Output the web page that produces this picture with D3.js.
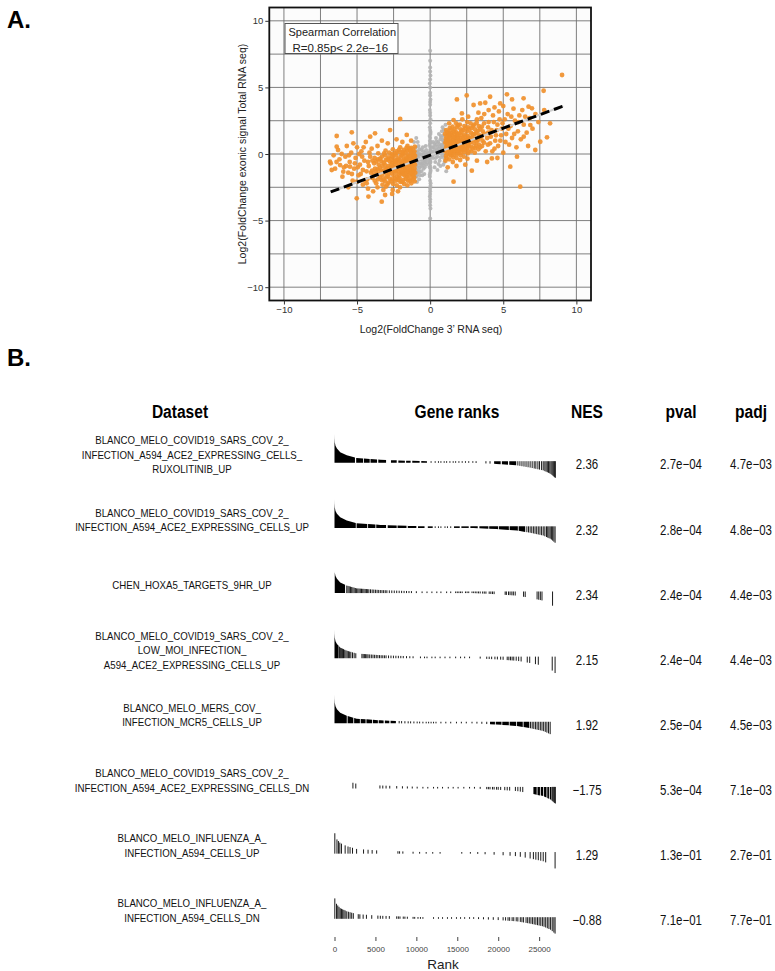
<!DOCTYPE html>
<html>
<head>
<meta charset="utf-8">
<title>Fold change scatter + GSEA table</title>
<script src="https://cdnjs.cloudflare.com/ajax/libs/d3/7.8.5/d3.min.js"></script>
<style>
  body { margin: 0; background: #fff; }
  svg text { font-family: "Liberation Sans", Arial, sans-serif; }
</style>
</head>
<body>
<svg id="fig" width="775" height="971"></svg>
<script>
// ---------- panel A data ----------
var gridVals = [-10, -7.5, -5, -2.5, 0, 2.5, 5, 7.5, 10];
var tickVals = [-10, -5, 0, 5, 10];
var fitX = [-6.8, 9.1];
var fitY = [-2.85, 3.6];

var grayPts = [
  [0,7.75],[0,6.2],[0.02,5.9],[-0.02,5.3],[0,4.6],[0.02,4.1],[0,3.7],[-0.02,3.3],[0,2.9],[0.02,2.6],
  [0,2.3],[-0.02,2.0],[0,1.8],[0.02,1.5],[0,1.2],[-0.02,1.0],[0,0.8],[0.02,0.5],[0,0.3],[-0.02,0.1],
  [0,-0.1],[0.02,-0.3],[0,-0.5],[-0.02,-0.7],[0,-0.9],[0.02,-1.1],[0,-1.4],[-0.02,-1.7],[0,-2.0],
  [0.02,-2.4],[0,-2.8],[-0.02,-3.2],[0,-3.6],[0.02,-4.1],[0,-4.85],
  [0.03,1.65],[-0.03,1.35],[0.03,0.9],[-0.03,0.65],[0.03,0.2],[-0.03,-0.2],[0.03,-0.6],[-0.03,-1.0],
  [0.03,-1.25],[-0.03,-1.55],[0.03,-2.2],[0,3.1],[0,3.9],[0,4.4],[0,5.0],[0,5.6],[0,6.5],[0,7.0],
  [0,-2.6],[0,-3.0],[0,-3.4],[0,-3.85],
  [-0.95,-0.9],[-0.9,-0.4],[-0.9,0.2],[-0.85,-1.4],[-0.8,-0.7],[-0.75,-0.1],[-0.7,-1.0],[-0.65,-0.4],
  [-0.6,0.3],[-0.55,-0.7],[-0.5,-0.2],[-0.45,-1.1],[-0.4,-0.5],[-0.35,0.1],[-0.3,-0.3],[-0.25,-0.8],
  [-0.2,0.0],[-0.15,-0.4],[-0.9,-2.1],[-0.95,1.2],[-0.8,0.6],[-0.7,-1.6],[-0.6,-1.3],[-1.0,-0.2],
  [-0.85,0.9],[-0.5,0.5],[-0.4,-1.5],[-0.3,0.6],[-0.95,-1.2],[-0.75,-1.9],[-0.88,-0.15],[-0.78,-1.2],
  [-0.68,-0.7],[-0.58,-0.05],[-0.48,-0.85],[-0.38,-0.2],[-0.92,-1.6],[-0.82,-0.45],[-0.72,0.35],
  [-0.98,-0.55],[-0.97,0.5],[-0.93,-1.7],[-0.87,-0.95],[-0.83,0.15],[-0.77,-0.35],[-0.73,-1.35],[-0.67,0.0],
  [-0.63,-0.9],[-0.57,-0.45],[-0.53,-1.6],[-0.47,0.2],[-0.43,-0.7],[-0.37,-1.0],[-0.33,-0.55],[-0.27,0.3],
  [-0.23,-0.25],[-0.17,-0.65],[-0.12,0.1],[-0.08,-0.2],[-1.05,-1.5],[-1.1,0.9],
  [0.15,0.2],[0.2,-0.3],[0.25,0.5],[0.3,0.0],[0.35,-0.6],[0.4,0.7],[0.45,0.3],[0.5,-0.2],[0.55,0.9],
  [0.6,0.4],[0.65,-0.5],[0.7,1.1],[0.75,0.2],[0.8,0.7],[0.85,-0.1],[0.9,1.4],[0.95,0.5],[0.9,-0.8],
  [0.6,1.5],[0.8,1.7],[0.95,1.0],[0.4,1.2],[0.3,-1.0],[0.7,-0.9],[0.85,2.0],[0.5,-1.2],[0.95,-0.3],
  [0.2,0.9],[0.88,0.25],[0.78,1.25],[0.68,0.6],[0.58,0.1],[0.92,0.85],[0.82,0.45],[0.72,-0.25],
  [0.08,0.15],[0.12,-0.15],[0.18,0.5],[0.23,0.05],[0.28,0.75],[0.33,0.3],[0.38,-0.3],[0.43,0.95],
  [0.48,0.55],[0.53,0.15],[0.57,-0.75],[0.62,0.75],[0.67,0.25],[0.73,1.35],[0.77,0.45],[0.83,1.05],
  [0.87,0.6],[0.93,1.8],[0.97,0.2],[0.98,-0.6],[1.05,2.2],[1.1,-1.3]
];

var orangePts = [
  // left cluster, dense part
  [-1.05,0.55],[-1.08,0.2],[-1.03,-0.15],[-1.1,-0.45],[-1.04,-0.8],[-1.07,-1.1],[-1.02,-1.4],[-1.09,-1.75],[-1.06,-2.05],
  [-1.3,0.45],[-1.33,0.1],[-1.27,-0.25],[-1.35,-0.55],[-1.28,-0.9],[-1.32,-1.2],[-1.26,-1.55],[-1.34,-1.85],[-1.29,-2.2],
  [-1.55,0.6],[-1.58,0.25],[-1.52,-0.1],[-1.6,-0.4],[-1.54,-0.75],[-1.57,-1.05],[-1.51,-1.35],[-1.59,-1.7],[-1.53,-2.0],[-1.56,-2.35],
  [-1.8,0.3],[-1.83,0.0],[-1.77,-0.35],[-1.85,-0.65],[-1.79,-1.0],[-1.82,-1.3],[-1.76,-1.6],[-1.84,-1.95],[-1.78,-2.25],
  [-2.05,0.5],[-2.08,0.15],[-2.02,-0.2],[-2.1,-0.5],[-2.04,-0.85],[-2.07,-1.15],[-2.01,-1.45],[-2.09,-1.8],[-2.03,-2.1],[-2.06,-2.5],
  [-2.3,0.2],[-2.33,-0.1],[-2.27,-0.45],[-2.35,-0.75],[-2.29,-1.05],[-2.32,-1.4],[-2.26,-1.7],[-2.34,-2.0],[-2.28,-2.35],
  [-2.55,0.35],[-2.58,0.0],[-2.52,-0.3],[-2.6,-0.65],[-2.54,-0.95],[-2.57,-1.25],[-2.51,-1.6],[-2.59,-1.9],[-2.53,-2.25],[-2.56,-2.7],
  [-2.8,0.1],[-2.83,-0.25],[-2.77,-0.55],[-2.85,-0.9],[-2.79,-1.2],[-2.82,-1.5],[-2.76,-1.85],[-2.84,-2.15],
  [-3.05,0.25],[-3.08,-0.1],[-3.02,-0.45],[-3.1,-0.8],[-3.04,-1.1],[-3.07,-1.4],[-3.01,-1.75],[-3.09,-2.05],[-3.03,-2.45],
  [-3.3,-0.2],[-3.33,-0.55],[-3.27,-0.9],[-3.35,-1.25],[-3.29,-1.6],[-3.32,-1.95],[-3.26,-2.3],
  [-3.55,0.05],[-3.58,-0.4],[-3.52,-0.8],[-3.6,-1.15],[-3.54,-1.5],[-3.57,-1.9],
  [-3.8,-0.3],[-3.83,-0.7],[-3.77,-1.1],[-3.85,-1.55],[-3.79,-2.0],
  [-1.18,0.35],[-1.2,-0.05],[-1.16,-0.6],[-1.22,-0.95],[-1.19,-1.3],[-1.17,-1.6],[-1.43,0.4],[-1.45,-0.2],
  [-1.41,-0.6],[-1.44,-0.95],[-1.4,-1.25],[-1.46,-1.6],[-1.68,0.1],[-1.7,-0.5],[-1.66,-0.85],[-1.71,-1.2],
  [-1.69,-1.5],[-1.93,-0.1],[-1.95,-0.7],[-1.91,-1.0],[-1.94,-1.35],[-2.18,-0.35],[-2.2,-0.95],[-2.17,-1.3],
  [-2.43,-0.55],[-2.45,-1.15],[-2.68,-0.4],[-2.7,-1.05],
  [-1.12,0.05],[-1.14,-0.3],[-1.11,-0.7],[-1.13,-1.25],[-1.15,-1.9],[-1.38,0.25],[-1.37,-0.4],[-1.39,-0.75],
  [-1.36,-1.45],[-1.38,-2.0],[-1.62,0.45],[-1.64,-0.25],[-1.63,-0.6],[-1.61,-1.3],[-1.65,-1.85],[-1.88,0.15],
  [-1.87,-0.5],[-1.89,-0.85],[-1.86,-1.5],[-1.9,-2.1],[-2.13,0.3],[-2.14,-0.65],[-2.12,-1.6],[-2.15,-1.95],
  [-2.38,0.05],[-2.4,-0.6],[-2.39,-1.25],[-2.41,-1.85],[-2.63,-0.15],[-2.65,-0.8],[-2.64,-1.4],[-2.66,-2.05],
  [-2.9,-0.4],[-2.92,-1.05],[-2.91,-1.65],[-2.93,-2.3],[-3.15,0.05],[-3.17,-0.65],[-3.16,-1.25],[-3.18,-1.9],
  [-3.42,-0.35],[-3.44,-1.05],[-3.43,-1.7],[-3.68,-0.55],[-3.7,-1.3],[-3.69,-2.2],[-3.95,-0.5],[-3.97,-1.25],
  [-3.96,-1.8],
  // left cluster, spread
  [-4.0,0.4],[-4.1,-0.2],[-4.2,-0.9],[-4.05,-1.4],[-4.3,-1.9],[-4.4,0.9],[-4.5,-0.5],[-4.6,-1.2],[-4.7,0.2],
  [-4.8,-0.8],[-4.9,-1.6],[-5.0,0.5],[-5.1,-0.3],[-5.2,-1.1],[-5.3,-2.0],[-5.4,0.1],[-5.5,-0.6],[-5.6,-1.4],
  [-5.7,0.6],[-5.8,-0.2],[-5.9,-1.0],[-6.0,-1.7],[-6.2,-0.4],[-6.3,0.3],[-6.5,-1.1],[-6.6,-0.1],[-6.8,-0.7],
  [-4.25,-2.6],[-3.9,-2.8],[-3.6,-2.5],[-4.6,-2.3],[-5.6,-2.5],[-3.2,-2.7],[-2.6,-3.0],[-2.2,-2.8],
  [-4.15,0.1],[-4.25,-0.6],[-4.35,-1.3],[-4.45,-2.0],[-4.55,0.5],[-4.65,-0.2],[-4.75,-1.5],[-4.85,0.0],
  [-4.95,-1.0],[-5.15,-0.7],[-5.35,-1.5],[-5.55,-0.1],[-5.75,-0.9],[-6.05,0.0],[-6.4,-0.6],
  [-6.39,1.35],[-6.39,0.55],[-5.36,1.63],[-5.25,0.8],[-4.1,1.3],[-3.77,1.55],[-2.74,1.8],[-2.05,2.63],
  [-1.6,1.43],[-6.85,-0.58],[-6.73,-1.2],[-6.16,-0.83],[-5.94,-1.33],[-5.48,-0.95],[-5.02,-3.33],[-4.22,-3.2],
  [-3.31,-3.58],[-3.08,-3.08],[-4.34,-2.2],[-5.02,-2.08],[-3.3,1.0],[-2.3,1.1],[-1.3,1.0],[-1.9,0.9],
  [-2.9,0.8],[-3.6,0.6],
  // right cluster, dense part
  [1.05,-0.5],[1.08,-0.15],[1.03,0.2],[1.1,0.5],[1.04,0.85],[1.07,1.15],[1.02,1.5],[1.09,1.8],
  [1.3,-0.4],[1.33,-0.05],[1.27,0.3],[1.35,0.65],[1.29,0.95],[1.32,1.3],[1.26,1.6],[1.34,1.95],
  [1.55,-0.6],[1.58,-0.25],[1.52,0.1],[1.6,0.4],[1.54,0.75],[1.57,1.05],[1.51,1.4],[1.59,1.7],[1.53,2.05],
  [1.8,-0.3],[1.83,0.0],[1.77,0.35],[1.85,0.7],[1.79,1.0],[1.82,1.35],[1.76,1.65],[1.84,2.0],[1.78,2.3],
  [2.05,-0.45],[2.08,-0.1],[2.02,0.25],[2.1,0.55],[2.04,0.9],[2.07,1.2],[2.01,1.55],[2.09,1.85],[2.03,2.2],
  [2.3,-0.2],[2.33,0.15],[2.27,0.5],[2.35,0.8],[2.29,1.15],[2.32,1.45],[2.26,1.8],[2.34,2.1],
  [2.55,-0.35],[2.58,0.05],[2.52,0.4],[2.6,0.7],[2.54,1.05],[2.57,1.35],[2.51,1.7],[2.59,2.0],[2.53,2.4],
  [2.8,0.2],[2.83,0.55],[2.77,0.9],[2.85,1.25],[2.79,1.6],[2.82,1.95],[2.76,2.3],
  [3.05,0.1],[3.08,0.45],[3.02,0.8],[3.1,1.15],[3.04,1.5],[3.07,1.85],[3.01,2.2],
  [3.3,0.35],[3.33,0.7],[3.27,1.05],[3.35,1.4],[3.29,1.75],[3.32,2.1],
  [3.55,0.6],[3.58,1.0],[3.52,1.35],[3.6,1.7],[3.54,2.05],
  [1.18,0.05],[1.2,0.45],[1.16,0.8],[1.22,1.1],[1.19,1.45],[1.43,-0.1],[1.45,0.25],[1.41,0.6],[1.44,0.9],
  [1.4,1.2],[1.46,1.55],[1.68,0.2],[1.7,0.55],[1.66,0.85],[1.71,1.2],[1.69,1.5],[1.93,0.1],[1.95,0.4],
  [1.91,0.75],[1.94,1.05],[2.18,0.35],[2.2,0.7],[2.17,1.0],[2.43,0.6],[2.45,0.95],[2.68,0.85],[2.7,1.15],
  [1.12,0.3],[1.14,0.65],[1.11,1.0],[1.13,1.3],[1.15,1.65],[1.12,-0.3],[1.38,0.1],[1.37,0.45],[1.39,0.8],
  [1.36,1.45],[1.38,1.8],[1.62,-0.05],[1.64,0.3],[1.63,0.9],[1.61,1.25],[1.65,1.85],[1.88,0.25],[1.87,0.55],
  [1.89,1.2],[1.86,1.5],[1.9,2.15],[2.13,0.1],[2.14,0.45],[2.12,1.4],[2.15,1.7],[2.38,0.3],[2.4,1.0],
  [2.39,1.3],[2.41,1.95],[2.63,0.2],[2.65,0.55],[2.64,1.2],[2.66,1.85],[2.9,0.4],[2.92,1.05],[2.91,1.45],
  [2.93,2.1],[3.15,0.6],[3.17,0.95],[3.16,1.6],[3.18,2.35],[3.42,0.5],[3.44,1.25],[3.43,1.9],[3.68,0.85],
  [3.7,1.5],[3.69,2.3],[3.95,0.7],[3.97,1.6],[3.96,2.0],
  // right cluster, spread
  [3.8,0.2],[3.9,1.2],[4.0,2.4],[4.1,0.8],[4.2,1.8],[4.3,2.9],[4.4,0.4],[4.5,1.4],[4.6,2.2],[4.7,3.2],
  [4.8,1.0],[4.9,1.9],[5.0,0.1],[5.1,2.6],[5.2,1.5],[5.3,3.0],[5.4,0.7],[5.5,2.1],[5.6,1.2],[5.7,3.4],
  [5.8,2.5],[5.9,0.5],[6.0,1.7],[6.1,2.9],[6.2,1.1],[6.3,3.3],[6.4,2.2],[6.6,1.6],[6.7,0.6],[6.8,2.7],
  [7.0,1.9],[7.2,3.0],[7.4,2.4],[3.7,3.0],[3.5,2.7],[3.2,2.6],[2.6,2.8],[2.2,2.6],[1.3,2.3],[4.4,3.5],
  [3.9,-0.6],[3.2,-0.5],[2.4,-0.8],[1.8,-0.9],[1.2,-1.0],[4.6,-0.3],
  [4.15,1.3],[4.25,0.2],[4.35,2.4],[4.45,1.0],[4.55,1.8],[4.65,0.6],[4.75,2.6],[4.85,1.4],[4.95,2.3],
  [5.15,0.9],[5.35,1.9],[5.55,2.8],[5.75,1.5],[6.05,2.4],[6.4,1.3],[4.0,3.3],[5.0,3.6],[3.3,3.1],[6.5,2.8],
  [9.02,5.93],[7.76,4.75],[1.83,4.1],[3.42,3.8],[3.77,3.85],[5.25,4.48],[4.79,3.8],[6.39,4.18],[6.73,3.55],
  [6.96,3.43],[2.97,3.68],[1.6,2.55],[2.17,3.05],[7.99,1.25],[7.19,0.3],[6.16,-2.45],[1.6,-2.08],[2.85,-1.25],
  [4.22,-0.33],[5.48,-0.95],[5.94,-0.2],[7.53,0.92],[6.85,2.17],[8.2,2.3],[7.8,3.3],[5.6,4.1],[4.1,4.3],[2.5,4.4]
];

// ---------- panel B data ----------
var datasets = [
  ["BLANCO_MELO_COVID19_SARS_COV_2_", "INFECTION_A594_ACE2_EXPRESSING_CELLS_", "RUXOLITINIB_UP"],
  ["BLANCO_MELO_COVID19_SARS_COV_2_", "INFECTION_A594_ACE2_EXPRESSING_CELLS_UP"],
  ["CHEN_HOXA5_TARGETS_9HR_UP"],
  ["BLANCO_MELO_COVID19_SARS_COV_2_", "LOW_MOI_INFECTION_", "A594_ACE2_EXPRESSING_CELLS_UP"],
  ["BLANCO_MELO_MERS_COV_", "INFECTION_MCR5_CELLS_UP"],
  ["BLANCO_MELO_COVID19_SARS_COV_2_", "INFECTION_A594_ACE2_EXPRESSING_CELLS_DN"],
  ["BLANCO_MELO_INFLUENZA_A_", "INFECTION_A594_CELLS_UP"],
  ["BLANCO_MELO_INFLUENZA_A_", "INFECTION_A594_CELLS_DN"]
];
var nes  = [2.36, 2.32, 2.34, 2.15, 1.92, -1.75, 1.29, -0.88];
var pval = [2.7e-4, 2.8e-4, 2.4e-4, 2.4e-4, 2.5e-4, 5.3e-4, 1.3e-1, 7.1e-1];
var padj = [4.7e-3, 4.8e-3, 4.4e-3, 4.4e-3, 4.5e-3, 7.1e-3, 2.7e-1, 7.7e-1];
var rankTicks = [0, 5000, 10000, 15000, 20000, 25000];

// ranked statistic (scaled to max |stat| = 1)
var rankKnots = [0, 10, 40, 120, 300, 700, 1500, 2700, 5600, 9000, 12000, 14500, 17000, 19800, 22300, 23900, 25500, 26400, 27000];
var statKnots = [1.0, 0.85, 0.7, 0.58, 0.48, 0.35, 0.24, 0.14, 0.08, 0.045, 0.02, 0.0, -0.03, -0.07, -0.12, -0.2, -0.3, -0.42, -0.57];

// pathway genes: runs of consecutive hits and single hits (rank positions)
var runs1 = [[0,2500],[2650,3500],[3600,4300],[4400,5200],[5350,6300],[6900,7600],[7800,8600],[8750,9300],[9500,10400],[10600,11300],[19500,20300],[20450,21200],[21350,22200]];
var hits1 = [11800,12300,12700,13000,13400,13700,14100,14500,14800,15200,15600,16000,16400,16900,17300,18500,19000,22400,22650,22900,23150,23400,23650,23900,24150,24400,24600,24850,25050,25300,25500,25700,25850,26000,26150,26300,26450,26580,26700,26800,26900,26980];
var runs2 = [[0,2600],[2700,4000],[4100,5000],[5100,6300],[6500,7600],[7700,8800],[8950,10000],[10200,11000],[11400,12000],[14600,15300],[15500,16400],[16600,17500],[17700,18800],[18900,20000],[20100,21300],[21400,22400],[22500,23300]];
var hits2 = [12300,12700,13000,13500,13800,14200,23500,23700,23900,24100,24300,24500,24700,24900,25100,25300,25500,25700,25900,26050,26200,26350,26500,26650,26800,26950];
var runs3 = [[30,1290]];
var hits3 = [1500,1650,1800,1950,2100,2250,2400,2550,2700,2850,3000,3150,3300,3450,3600,3750,3900,4050,4200,4400,4600,4800,5000,5200,5400,5600,5800,6000,6200,6400,6700,7000,7300,7600,7900,8200,8500,8800,9100,9400,10000,10700,11300,11900,12500,13000,13700,14200,14800,15000,15200,15400,15600,16000,16200,16400,16800,17000,17200,17400,17600,17800,18100,18300,18500,18900,19100,19300,19500,20850,21000,21260,21450,21670,21850,22080,23100,23300,24750,24950,25150,25350,26640];
var runs4 = [[0,500]];
var hits4 = [600,700,800,900,1000,1100,1250,1400,1550,1700,1850,2000,2200,2400,2600,3350,3500,3650,3800,3950,4100,4300,4500,4700,4900,5100,5300,5500,5700,5900,6100,6300,6600,6900,7200,7500,7800,8100,8400,8800,9200,9600,10500,11000,11300,11900,12300,12900,13500,14100,14800,15400,15900,16500,17800,18600,18900,19200,19600,19900,20300,20600,21100,21300,21500,21700,21900,22200,22500,22800,23550,23850,24550,24900,26600,26950];
var runs5 = [[0,1500],[1600,2300],[2400,3100],[3200,3800],[3900,4600],[4700,5300],[5400,6000],[6150,6700],[6850,7500],[19000,19600],[19700,20400],[20500,21300],[21400,22200],[22300,23000],[23100,23800]];
var hits5 = [7900,8200,8600,9000,9300,9700,10100,10400,10800,11200,11500,11800,12100,12400,13000,13600,14200,14900,15500,16100,16800,17400,18000,18600,23950,24150,24350,24550,24750,24950,25150,25350,25550,25750,25950,26150,26350];
var runs6 = [[24300,24700],[24800,25100],[25200,25500],[25600,25900],[26000,26200],[26300,26500]];
var hits6 = [2250,2600,5550,5900,6300,6750,7600,8300,8900,9500,10100,10800,11400,12100,12600,13200,13900,14500,15100,15800,16500,17100,17800,18600,18800,19000,19300,19500,19800,20000,20300,20800,21100,21400,22100,22400,22700,23000,26600,26700,26800,26900,26980];
var runs7 = [];
var hits7 = [40,300,480,650,850,1300,1650,1900,2200,2700,3550,4100,4600,5150,7750,7950,8350,9600,10400,11200,12000,12900,15550,16600,17500,18400,19500,20600,21450,22100,22700,23300,23900,24300,24600,24900,25200,25500,25800,26950];
var runs8 = [];
var hits8 = [40,250,400,550,700,850,1000,1150,1300,1500,1700,1900,2100,2300,2900,3100,3500,3900,4550,5300,5600,5900,6300,6700,7600,7800,8000,8400,8600,8900,9600,9800,10200,10500,10800,12100,12700,13200,13800,14300,14900,15400,15900,16500,17000,17600,18200,18800,19400,20000,20600,20900,21200,21400,21700,21900,22200,22400,22700,22900,23100,23400,23600,23800,24000,24200,24400,24600,24800,25000,25200,25400,25600,25800,26000,26200,26400,26600,26800,26950];

var allRuns = [runs1, runs2, runs3, runs4, runs5, runs6, runs7, runs8];
var allHits = [hits1, hits2, hits3, hits4, hits5, hits6, hits7, hits8];

// ---------- drawing ----------
var svg = d3.select("#fig");
svg.append("rect").attr("width", 775).attr("height", 971).attr("fill", "#fff");

// panel labels
svg.append("text").attr("x", 7).attr("y", 28).attr("font-size", 24).attr("font-weight", "bold").text("A.");
svg.append("text").attr("x", 7).attr("y", 366).attr("font-size", 24).attr("font-weight", "bold").text("B.");

// ---- panel A: scatter ----
var x = d3.scaleLinear().domain([-11, 11]).range([269.3, 591]);
var y = d3.scaleLinear().domain([-11, 11]).range([300.5, 7.5]);

svg.append("rect")
    .attr("x", x(-11)).attr("y", y(11))
    .attr("width", x(11) - x(-11)).attr("height", y(-11) - y(11))
    .attr("fill", "#fcfcfc");

svg.append("g").selectAll("line.gx").data(gridVals).enter().append("line")
    .attr("x1", function(d) { return x(d); }).attr("x2", function(d) { return x(d); })
    .attr("y1", y(11)).attr("y2", y(-11))
    .attr("stroke", "#707070").attr("stroke-width", 0.9);
svg.append("g").selectAll("line.gy").data(gridVals).enter().append("line")
    .attr("y1", function(d) { return y(d); }).attr("y2", function(d) { return y(d); })
    .attr("x1", x(-11)).attr("x2", x(11))
    .attr("stroke", "#707070").attr("stroke-width", 0.9);

svg.append("g").selectAll("circle").data(grayPts).enter().append("circle")
    .attr("cx", function(d) { return x(d[0]); })
    .attr("cy", function(d) { return y(d[1]); })
    .attr("r", 2).attr("fill", "#b3b3b3").attr("opacity", 0.9);

svg.append("g").selectAll("circle").data(orangePts).enter().append("circle")
    .attr("cx", function(d) { return x(d[0]); })
    .attr("cy", function(d) { return y(d[1]); })
    .attr("r", 2.4).attr("fill", "#f0902c").attr("opacity", 0.92);

var fitLine = d3.line().x(function(d) { return x(d[0]); }).y(function(d) { return y(d[1]); });
var fitPts = d3.zip(fitX, fitY);
svg.append("path").attr("d", fitLine(fitPts)).attr("fill", "none")
    .attr("stroke", "#cfcfcf").attr("stroke-width", 2);
svg.append("path").attr("d", fitLine(fitPts)).attr("fill", "none")
    .attr("stroke", "#000").attr("stroke-width", 3).attr("stroke-dasharray", "9,5");

svg.append("rect")
    .attr("x", x(-11)).attr("y", y(11))
    .attr("width", x(11) - x(-11)).attr("height", y(-11) - y(11))
    .attr("fill", "none").attr("stroke", "#111").attr("stroke-width", 1.8);

// correlation box
svg.append("rect").attr("x", 285).attr("y", 23.5).attr("width", 113).attr("height", 30)
    .attr("fill", "#fff").attr("stroke", "#555").attr("stroke-width", 1);
svg.append("text").attr("x", 288.5).attr("y", 36).attr("font-size", 11).attr("fill", "#222")
    .text("Spearman Correlation");
svg.append("text").attr("x", 292.5).attr("y", 51.5).attr("font-size", 11.5).attr("fill", "#222")
    .text("R=0.85p< 2.2e\u221216");

var yAxis = svg.append("g").attr("transform", "translate(" + x(-11) + ",0)")
    .call(d3.axisLeft(y).tickValues(tickVals).tickSize(4).tickPadding(2));
var xAxis = svg.append("g").attr("transform", "translate(0," + y(-11) + ")")
    .call(d3.axisBottom(x).tickValues(tickVals).tickSize(4).tickPadding(2));
[yAxis, xAxis].forEach(function(a) {
  a.select(".domain").remove();
  a.selectAll("line").attr("stroke", "#333");
  a.selectAll("text").attr("font-size", 9.5).attr("fill", "#333")
    .attr("font-family", "Liberation Sans, Arial, sans-serif");
});

svg.append("text").attr("x", 431).attr("y", 333).attr("text-anchor", "middle")
    .attr("font-size", 10.5).attr("fill", "#222").text("Log2(FoldChange 3\u2019 RNA seq)");
svg.append("text").attr("transform", "translate(246,154) rotate(-90)")
    .attr("text-anchor", "middle").attr("font-size", 10.5).attr("fill", "#222")
    .text("Log2(FoldChange exonic signal Total RNA seq)");

// ---- panel B: GSEA table ----
// the table text is condensed horizontally, like Arial Narrow
var squeeze = 0.82;
function narrowText(sel, cx, cy) {
  return sel.append("text")
    .attr("transform", "translate(" + cx + "," + cy + ") scale(" + squeeze + ",1)")
    .attr("text-anchor", "middle");
}

var colDataset = 192, colNES = 587, colPval = 681, colPadj = 751;
var headerY = 418;
var headers = [["Dataset", 180], ["Gene ranks", 457], ["NES", colNES], ["pval", colPval], ["padj", colPadj]];
headers.forEach(function(h) {
  narrowText(svg, h[1], headerY).attr("font-size", 19).attr("font-weight", "bold").text(h[0]);
});

var xr = d3.scaleLinear().domain([0, 27000]).range([334.5, 555.5]);
var statAt = d3.scaleLinear().domain(rankKnots).range(statKnots).clamp(true);
var hPx = d3.scaleLinear().domain([0, 1]).range([0, 28]);
var rowY = d3.scalePoint().domain(d3.range(datasets.length)).range([462, 918]);

function span(r, base) {
  var h = hPx(statAt(r));
  var top = Math.min(base - h, base), bot = Math.max(base - h, base);
  return [Math.min(top, base - 0.8), Math.max(bot, base + 0.8)];
}

function fmtSci(v) {
  var parts = v.toExponential(1).split("e");
  var e = parseInt(parts[1], 10);
  var s = (e < 0 ? "\u2212" : "+") + (Math.abs(e) < 10 ? "0" : "") + Math.abs(e);
  return parts[0] + "e" + s;
}
var fmtNes = d3.format(".2f");

datasets.forEach(function(lines, i) {
  var base = rowY(i);
  var g = svg.append("g");

  // dataset name
  var lh = 14.5;
  var c = base - 7.5;
  lines.forEach(function(t, j) {
    narrowText(g, colDataset, c + (j - (lines.length - 1) / 2) * lh)
      .attr("dy", "0.35em").attr("font-size", 11.8).attr("fill", "#111").text(t);
  });

  // runs drawn as filled areas
  var area = d3.area()
    .x(function(r) { return xr(r); })
    .y0(function(r) { return span(r, base)[1]; })
    .y1(function(r) { return span(r, base)[0]; });
  allRuns[i].forEach(function(run) {
    var pts = [run[0]].concat(rankKnots.filter(function(k) { return k > run[0] && k < run[1]; }), [run[1]]);
    g.append("path").attr("d", area(pts)).attr("fill", "#000");
  });

  // single hits as segments
  g.selectAll("line.hit").data(allHits[i]).enter().append("line")
    .attr("x1", function(r) { return xr(r); }).attr("x2", function(r) { return xr(r); })
    .attr("y1", function(r) { return span(r, base)[0]; })
    .attr("y2", function(r) { return span(r, base)[1]; })
    .attr("stroke", "#000").attr("stroke-width", 0.9);

  // stats
  var vals = [[fmtNes(nes[i]), colNES], [fmtSci(pval[i]), colPval], [fmtSci(padj[i]), colPadj]];
  vals.forEach(function(v) {
    narrowText(g, v[1], base + 2.5).attr("dy", "0.35em")
      .attr("font-size", 14).attr("fill", "#111").text(v[0]);
  });
});

var rankAxis = svg.append("g").attr("transform", "translate(0,937)")
    .call(d3.axisBottom(xr).tickValues(rankTicks).tickSize(4).tickPadding(5).tickFormat(d3.format("d")));
rankAxis.select(".domain").remove();
rankAxis.selectAll("line").attr("stroke", "#444");
rankAxis.selectAll("text").attr("font-size", 8).attr("fill", "#444")
  .attr("font-family", "Liberation Sans, Arial, sans-serif");

svg.append("text").attr("x", 443).attr("y", 969).attr("text-anchor", "middle")
    .attr("font-size", 13.5).attr("fill", "#222").text("Rank");
</script>
</body>
</html>
